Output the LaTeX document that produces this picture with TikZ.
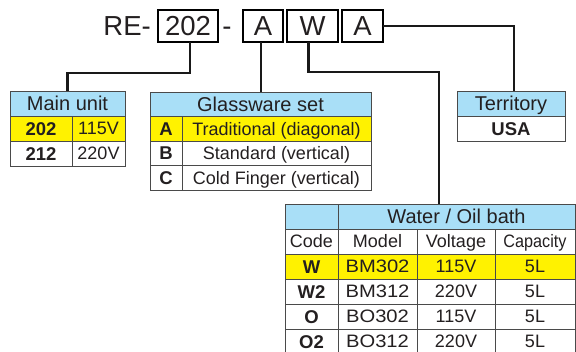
\documentclass[tikz,border=0pt]{standalone}
\usepackage{fontspec}
\setmainfont{Liberation Sans}
\definecolor{txt}{HTML}{231F20}
\definecolor{bord}{HTML}{4A4A4A}
\definecolor{lblue}{HTML}{A9DFF7}
\definecolor{yel}{HTML}{FFF200}
\newcommand\fhead{\fontsize{20}{20}\selectfont}
\newcommand\fbody{\fontsize{18}{18}\selectfont}
\newcommand\fbold{\fontsize{18.5}{18.5}\selectfont\bfseries}
\newcommand\ftop{\fontsize{27.5}{27.5}\selectfont}
\newcommand\wide[1]{\scalebox{1.12}[1]{#1}}
\newcommand\narrow[1]{\scalebox{0.9}[1]{#1}}
\tikzset{
 cell/.style={draw=bord, line width=0.9pt, anchor=north west, inner sep=0pt, outer sep=0pt,
   minimum height=25pt, text height=12.9pt, text depth=0pt, text=txt, font=\fbody},
 hdr/.style={cell, fill=lblue, font=\fhead, text height=14.3pt},
 hl/.style={fill=yel},
 bd/.style={font=\fbold, text height=13.3pt},
 topbox/.style={draw=black, line width=2pt, inner sep=0pt, outer sep=0pt, minimum height=32pt,
   font=\ftop, text=txt, text height=19.7pt, text depth=0pt},
 conn/.style={draw=black!90, line width=2.5pt}
}
\begin{document}
\begin{tikzpicture}[x=1pt,y=-1pt]
\useasboundingbox (0,0) rectangle (576,351);
% top code
\node[font=\ftop, text=txt, anchor=east, inner sep=0pt, text height=19.7pt, text depth=0pt] (re) at (151,26) {RE-};
\node[topbox, minimum width=60pt] (b202) at (188,26) {202};
\node[font=\ftop, text=txt, inner sep=0pt, text height=19.7pt, text depth=0pt] (dash) at (227,26) {-};
\node[topbox, minimum width=40pt] (bA) at (263,26) {A};
\node[topbox, minimum width=51pt] (bW) at (312.5,26) {W};
\node[topbox, minimum width=41pt] (bA2) at (362.5,26) {A};

% Main unit
\node[hdr, minimum width=115pt] (mu) at (10,91) {Main unit};
\node[cell, hl, bd, minimum width=62pt] (mu1a) at (10,116) {202};
\node[cell, hl, minimum width=53pt] (mu1b) at (72,116) {115V};
\node[cell, bd, minimum width=62pt] (mu2a) at (10,141) {212};
\node[cell, minimum width=53pt] (mu2b) at (72,141) {220V};

% Glassware set
\node[hdr, minimum width=221pt, minimum height=24.5pt] (gs) at (150,92) {Glassware set};
\node[cell, hl, bd, minimum width=32pt, minimum height=24.5pt] (gs1a) at (150,116.5) {A};
\node[cell, hl, minimum width=189pt, minimum height=24.5pt] (gs1b) at (182,116.5) {Traditional (diagonal)};
\node[cell, bd, minimum width=32pt, minimum height=24.5pt] (gs2a) at (150,141) {B};
\node[cell, minimum width=189pt, minimum height=24.5pt] (gs2b) at (182,141) {Standard (vertical)};
\node[cell, bd, minimum width=32pt, minimum height=24.5pt] (gs3a) at (150,165.5) {C};
\node[cell, minimum width=189pt, minimum height=24.5pt] (gs3b) at (182,165.5) {Cold Finger (vertical)};

% Territory
\node[hdr, minimum width=108pt] (ter) at (457,91) {Territory};
\node[cell, bd, minimum width=108pt] (ter1) at (457,116) {USA};

% Water / Oil bath
\node[hdr, minimum width=53pt] (wb0) at (285,204) {};
\node[hdr, minimum width=237pt] (wob) at (338,204) {Water / Oil bath};
\node[cell, minimum width=53pt] (wc1) at (285,229) {Code};
\node[cell, minimum width=79pt] (wc2) at (338,229) {Model};
\node[cell, minimum width=78pt] (wc3) at (417,229) {Voltage};
\node[cell, minimum width=80pt] (wc4) at (495,229) {\narrow{Capacity}};
\node[cell, hl, bd, minimum width=53pt] (w1a) at (285,254) {W};
\node[cell, hl, minimum width=79pt] (w1b) at (338,254) {\wide{BM302}};
\node[cell, hl, minimum width=78pt] (w1c) at (417,254) {115V};
\node[cell, hl, minimum width=80pt] (w1d) at (495,254) {5L};
\node[cell, bd, minimum width=53pt] (w2a) at (285,279) {W2};
\node[cell, minimum width=79pt] (w2b) at (338,279) {\wide{BM312}};
\node[cell, minimum width=78pt] (w2c) at (417,279) {220V};
\node[cell, minimum width=80pt] (w2d) at (495,279) {5L};
\node[cell, bd, minimum width=53pt] (w3a) at (285,304) {O};
\node[cell, minimum width=79pt] (w3b) at (338,304) {\wide{BO302}};
\node[cell, minimum width=78pt] (w3c) at (417,304) {115V};
\node[cell, minimum width=80pt] (w3d) at (495,304) {5L};
\node[cell, bd, minimum width=53pt] (w4a) at (285,329) {O2};
\node[cell, minimum width=79pt] (w4b) at (338,329) {\wide{BO312}};
\node[cell, minimum width=78pt] (w4c) at (417,329) {220V};
\node[cell, minimum width=80pt] (w4d) at (495,329) {5L};

% connectors
\coordinate (wtap) at (439,204);
\coordinate (ttap) at (514,91);
\draw[conn] ([xshift=2pt]b202.south) -- ++(0,31) -| (mu.north);
\draw[conn] ([xshift=-2pt]bA.south) -- ([xshift=-2pt]bA.south |- gs.north);
\draw[conn] ([xshift=-4pt]bW.south) -- ++(0,30) -| (wtap);
\draw[conn] (bA2.east) -| (ttap);
\end{tikzpicture}
\end{document}
